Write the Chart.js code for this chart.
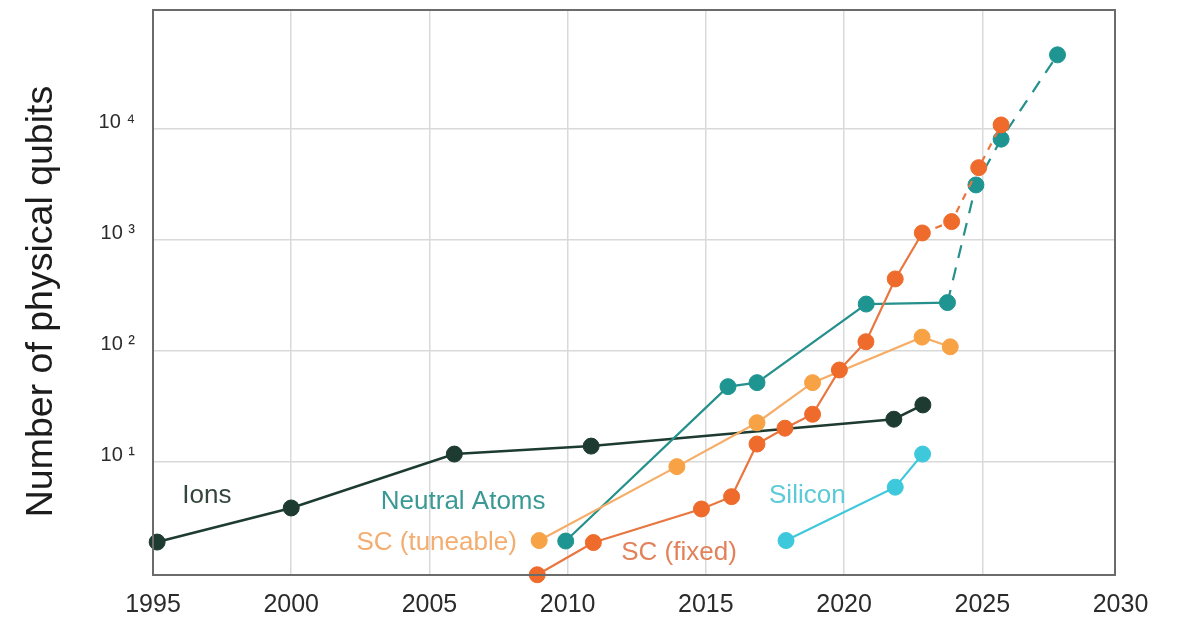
<!DOCTYPE html>
<html>
<head>
<meta charset="utf-8">
<script src="https://cdn.jsdelivr.net/npm/chart.js@4.4.1/dist/chart.umd.min.js"></script>
<style>
  html, body { margin: 0; padding: 0; background: #ffffff; }
  #wrap { width: 1177px; height: 619px; position: relative; }
</style>
</head>
<body>
<div id="wrap"><canvas id="chart"></canvas></div>
<script>
// Axis ticks
const xTickYears = [1995, 2000, 2005, 2010, 2015, 2020, 2025, 2030];
const yTickValues = [10, 100, 1000, 10000];
const yTickLabels = ['10 \u00b9', '10 \u00b2', '10 \u00b3', '10 \u2074'];
const yAxisTitle = 'Number of physical qubits';

// Trapped ions
const ionsYears  = [1995.15, 2000.0, 2005.9, 2010.85, 2021.8, 2022.85];
const ionsQubits = [1.89, 3.83, 11.7, 13.8, 24.1, 32.4];

// Neutral atoms (points from index 4 on are joined by a dashed projection)
const atomsYears  = [2009.93, 2015.8, 2016.85, 2020.8, 2023.74, 2024.77, 2025.68, 2027.72];
const atomsQubits = [1.93, 47.3, 51.4, 262, 270, 3090, 7980, 45800];
const atomsProjectedFrom = 4;

// Superconducting, tuneable couplers
const tuneYears  = [2008.97, 2013.95, 2016.85, 2018.86, 2022.82, 2023.84];
const tuneQubits = [1.95, 9.02, 22.4, 51.4, 132, 108];

// Superconducting, fixed couplers (dashed from index 10 on)
const fixedYears  = [2008.9, 2010.93, 2014.84, 2015.93, 2016.85, 2017.86, 2018.86, 2019.83, 2020.79, 2021.85, 2022.83, 2023.89, 2024.87, 2025.68];
const fixedQubits = [0.96, 1.87, 3.75, 4.84, 14.4, 20.0, 26.7, 66.8, 120, 441, 1143, 1446, 4424, 10720];
const fixedProjectedFrom = 10;

// Silicon spin qubits
const siliconYears  = [2017.9, 2021.85, 2022.84];
const siliconQubits = [1.95, 5.89, 11.7];

const seriesNames = ['Ions', 'Neutral Atoms', 'SC (tuneable)', 'SC (fixed)', 'Silicon'];

// Where each series name is written, in axis units
const nameAnchors = {
  'Ions':          { x: 1996.95, y: 4.91, color: '#33463e' },
  'Neutral Atoms': { x: 2006.22, y: 4.34, color: '#3a9994' },
  'SC (tuneable)': { x: 2005.26, y: 1.85, color: '#f3ad70' },
  'SC (fixed)':    { x: 2014.03, y: 1.50, color: '#e2825a' },
  'Silicon':       { x: 2018.67, y: 4.91, color: '#5ccad8' }
};

const FONT = "'Liberation Sans', Arial, Helvetica, sans-serif";

const toPoints = (xs, ys) => xs.map((x, i) => ({ x: x, y: ys[i] }));
const dashedFrom = (start, pattern) => ctx => (ctx.p0DataIndex >= start ? pattern : []);

function series(label, xs, ys, color, lineColor, width, extra) {
  return Object.assign({
    label: label,
    data: toPoints(xs, ys),
    borderColor: lineColor,
    backgroundColor: color,
    borderWidth: width,
    pointRadius: 8,
    pointHoverRadius: 8,
    pointBackgroundColor: color,
    pointBorderColor: color,
    pointBorderWidth: 1,
    tension: 0,
    fill: false,
    clip: false
  }, extra || {});
}

// Frame around the plot area
const frame = {
  id: 'frame',
  afterDraw(chart) {
    const { ctx, chartArea: a } = chart;
    ctx.save();
    ctx.strokeStyle = '#6b6b6b';
    ctx.lineWidth = 2;
    ctx.strokeRect(a.left, a.top, a.right - a.left, a.bottom - a.top);
    ctx.restore();
  }
};

// Series names written next to their lines, plus the rotated y-axis title
const annotations = {
  id: 'annotations',
  afterDatasetsDraw(chart) {
    const { ctx, scales: { x, y }, chartArea: a } = chart;
    ctx.save();
    ctx.textAlign = 'center';
    ctx.textBaseline = 'middle';
    ctx.font = '26px ' + FONT;
    seriesNames.forEach(name => {
      const p = nameAnchors[name];
      ctx.fillStyle = p.color;
      ctx.fillText(name, x.getPixelForValue(p.x), y.getPixelForValue(p.y));
    });
    ctx.translate(42, (a.top + a.bottom) / 2 + 9);
    ctx.rotate(-Math.PI / 2);
    ctx.font = '37.5px ' + FONT;
    ctx.fillStyle = '#1c1c1c';
    ctx.fillText(yAxisTitle, 0, 0);
    ctx.restore();
  }
};

new Chart(document.getElementById('chart'), {
  type: 'line',
  data: {
    datasets: [
      series('SC (fixed)', fixedYears, fixedQubits, '#ee6b2b', '#e9753f', 2.2,
        { segment: { borderDash: dashedFrom(fixedProjectedFrom, [7, 7]) } }),
      series('SC (tuneable)', tuneYears, tuneQubits, '#f7a245', '#f5ad68', 2.2),
      series('Neutral Atoms', atomsYears, atomsQubits, '#1f9591', '#25908c', 2.2,
        { segment: { borderDash: dashedFrom(atomsProjectedFrom, [13, 10]) } }),
      series('Ions', ionsYears, ionsQubits, '#1d3b31', '#1d3b31', 2.5),
      series('Silicon', siliconYears, siliconQubits, '#3dc8dc', '#3dc8dc', 2.2)
    ]
  },
  options: {
    responsive: true,
    maintainAspectRatio: false,
    animation: false,
    events: [],
    layout: { padding: { left: 0, top: 10, right: 62, bottom: 0 } },
    plugins: {
      legend: { display: false },
      tooltip: { enabled: false },
      title: { display: false }
    },
    scales: {
      x: {
        type: 'linear',
        min: 1995,
        max: 2029.8,
        afterBuildTicks: s => { s.ticks = xTickYears.map(v => ({ value: v })); },
        afterFit: s => { s.height = 44; s.paddingLeft = 0; s.paddingRight = 0; },
        border: { display: false },
        grid: {
          drawTicks: false,
          lineWidth: 1.5,
          color: c => (c.tick && (c.tick.value === 1995 || c.tick.value === 2030)) ? 'rgba(0,0,0,0)' : '#d9d9d9'
        },
        ticks: {
          padding: 15,
          color: '#2b2b2b',
          font: { family: FONT, size: 25 },
          callback: v => String(v),
          maxRotation: 0,
          autoSkip: false
        }
      },
      y: {
        type: 'logarithmic',
        min: 0.955,
        max: 116000,
        afterBuildTicks: s => { s.ticks = yTickValues.map(v => ({ value: v })); },
        afterFit: s => { s.width = 153; s.paddingTop = 0; s.paddingBottom = 0; },
        border: { display: false },
        grid: { drawTicks: false, lineWidth: 1.5, color: '#d9d9d9' },
        ticks: {
          padding: 18,
          labelOffset: -6,
          color: '#2b2b2b',
          font: { family: FONT, size: 20 },
          autoSkip: false,
          callback: v => {
            const i = yTickValues.indexOf(v);
            return i >= 0 ? yTickLabels[i] : '';
          }
        }
      }
    }
  },
  plugins: [frame, annotations]
});
</script>
</body>
</html>
